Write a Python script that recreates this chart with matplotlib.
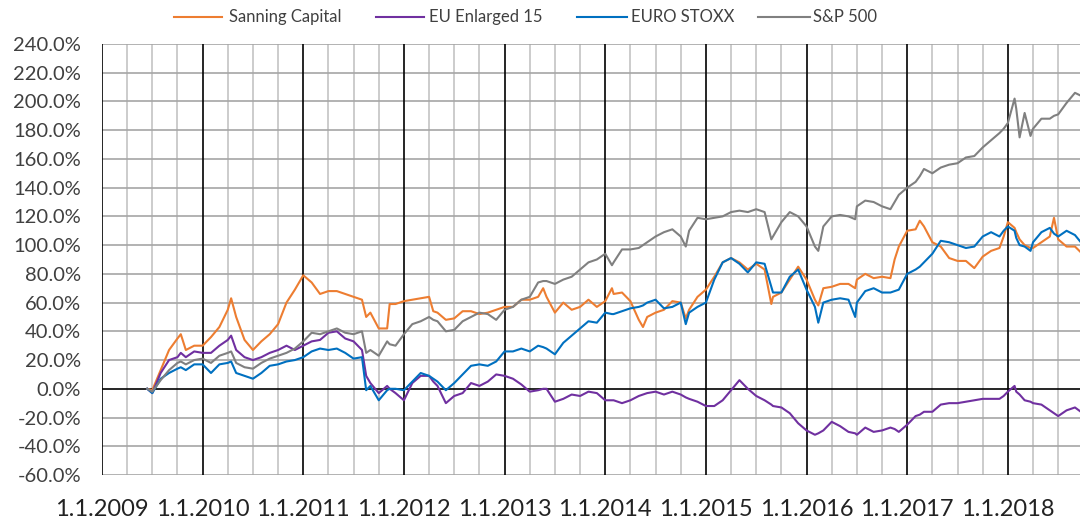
import matplotlib
matplotlib.use("Agg")
import matplotlib.pyplot as plt
from matplotlib.lines import Line2D
import numpy as np

# months since 1.1.2009
months = [5.4, 6, 7, 8, 9, 9.4, 10, 11, 12, 13, 14, 15, 15.4, 16, 17, 18, 19, 20, 21, 22, 23, 24,
          25, 26, 27, 28, 29, 30, 31, 31.5, 32, 33, 34, 34.3, 35, 36, 37, 38, 39, 39.5, 40, 41, 42,
          43, 44, 45, 46, 47, 48, 49, 50, 51, 52, 52.6, 53, 54, 55, 56, 57, 58, 59, 60, 60.8, 61,
          62, 63, 64, 64.5, 65, 66, 67, 68, 69, 69.6, 70, 71, 72, 73, 74, 75, 76, 77, 78, 79, 79.8,
          80, 81, 82, 83, 84, 85, 85.4, 86, 87, 88, 89, 89.8, 90, 91, 92, 93, 94, 94.5, 95, 96, 97,
          97.5, 98, 99, 100, 101, 102, 103, 104, 105, 106, 107, 107.5, 108, 108.8, 109, 109.4, 110,
          110.7, 111, 112, 113, 113.5, 114, 115, 116, 116.7]

sanning = [0, -1, 13, 27, 35, 38, 27, 30, 30, 36, 43, 55, 63, 50, 34, 27, 33, 38, 45, 60, 69, 79,
           74, 66, 68, 68, 66, 64, 62, 50, 53, 42, 42, 59, 59, 61, 62, 63, 64, 54, 53, 48, 49,
           54, 54, 52, 53, 55, 57, 57, 62, 62, 64, 70, 64, 53, 60, 55, 57, 62, 57, 61, 70, 66,
           67, 61, 48, 43, 50, 53, 55, 61, 60, 49, 55, 64, 69, 78, 88, 91, 88, 83, 87, 83, 59,
           64, 67, 76, 85, 76, 62, 58, 70, 71, 73, 73, 70, 76, 80, 77, 78, 77, 90, 99, 110, 111,
           117, 113, 102, 99, 91, 89, 89, 84, 92, 96, 98, 106, 116, 112, 109, 104, 100,
           98, 98, 102, 106, 119, 104, 99, 99, 95]

eu15 = [0, -3, 11, 20, 22, 25, 22, 26, 25, 25, 30, 34, 37, 27, 22, 20, 22, 25, 27, 30, 27, 30,
        33, 34, 39, 40, 35, 33, 27, 9, 4, -3, 2, 0, -3, -8, 4, 9, 9, 5, 2, -10, -5,
        -3, 4, 2, 5, 10, 9, 7, 3, -2, -1, 0, 0, -9, -7, -4, -5, -2, -3, -8, -8, -8,
        -10, -8, -5, -4, -3, -2, -4, -2, -4, -6, -7, -9, -12, -12, -8, -1, 6, 0, -5, -8, -11,
        -12, -13, -17, -24, -29, -32, -31, -29, -23, -26, -30, -31, -32, -27, -30, -29, -27, -28, -30, -25, -19,
        -18, -16, -16, -11, -10, -10, -9, -8, -7, -7, -7, -5, -2, 2, -2, -4, -8,
        -9, -10, -11, -15, -17, -19, -15, -13, -16]

eurostoxx = [0, -3, 7, 11, 14, 15, 13, 17, 17, 11, 17, 18, 19, 11, 9, 7, 11, 16, 17, 19, 20, 22,
             26, 28, 27, 28, 25, 21, 22, -1, 2, -8, -1, 0, 0, -1, 5, 11, 9, 7, 5, -1, 4,
             10, 16, 17, 16, 19, 26, 26, 28, 26, 30, 29, 28, 24, 32, 37, 42, 47, 46, 53, 52, 52,
             54, 56, 57, 58, 60, 62, 56, 57, 60, 45, 53, 57, 60, 76, 88, 91, 87, 81, 88, 87, 71,
             67, 67, 78, 83, 69, 57, 46, 60, 62, 63, 62, 50, 60, 68, 70, 67, 67, 68, 69, 80, 83,
             85, 88, 94, 103, 102, 100, 98, 99, 106, 109, 106, 110, 113, 110, 105, 100, 99,
             96, 102, 109, 112, 108, 106, 110, 107, 102]

sp500 = [0, -2, 6, 13, 18, 19, 17, 20, 21, 18, 23, 25, 26, 18, 15, 14, 18, 21, 23, 25, 28, 33,
         39, 38, 40, 42, 39, 38, 40, 25, 27, 23, 33, 31, 30, 38, 45, 47, 50, 48, 47, 40, 41,
         47, 50, 53, 52, 48, 55, 57, 62, 64, 74, 75, 75, 73, 76, 78, 83, 88, 90, 94, 86, 88,
         97, 97, 98, 100, 102, 106, 109, 111, 106, 99, 110, 119, 118, 119, 120, 123, 124, 123, 125, 123, 104,
         106, 116, 123, 120, 113, 99, 96, 113, 120, 121, 120, 118, 127, 131, 130, 127, 125, 130, 135, 140, 144,
         148, 153, 150, 154, 156, 157, 161, 162, 168, 173, 178, 181, 185, 202, 195, 175, 192,
         176, 181, 188, 188, 190, 191, 199, 206, 204]

names = ["Sanning Capital", "EU Enlarged 15", "EURO STOXX", "S&P 500"]
colors = ["#ED7D31", "#7030A0", "#0070C0", "#808080"]
year_labels = ["1.1.2009", "1.1.2010", "1.1.2011", "1.1.2012", "1.1.2013",
               "1.1.2014", "1.1.2015", "1.1.2016", "1.1.2017", "1.1.2018"]

plt.rcParams['font.family'] = ['Lato', 'DejaVu Sans']

W, H = 1080, 523
fig = plt.figure(figsize=(10.8, 5.23), dpi=100)
ax = fig.add_axes([0.0944, 0.0918, 0.9056, 0.8241])

# grid
for m in np.arange(0, 117, 3):
    if m % 12 == 0:
        ax.axvline(m, color="black", lw=1.2, zorder=1)
    else:
        ax.axvline(m, color="#C8C8C8", lw=1.3, zorder=0)
for v in np.arange(-60, 241, 20):
    ax.axhline(v, color="black" if v == 0 else "#A6A6A6", lw=1.2, zorder=1 if v == 0 else 0)

for series, name, c in zip([sanning, eu15, eurostoxx, sp500], names, colors):
    ax.plot(months, series, color=c, lw=1.5, label=name, zorder=2)

ax.set_xlim(0, 116.6)
ax.set_ylim(-60, 240)
ax.set_yticks(np.arange(-60, 241, 20))
ax.set_yticklabels(["%.1f%%" % v for v in np.arange(-60, 241, 20)], fontsize=14.5, color="#404040")
ax.set_xticks(np.arange(0, 109, 12))
ax.set_xticklabels(year_labels, fontsize=17, color="#222222")
ax.tick_params(length=0)
ax.tick_params(axis="y", pad=15)
ax.tick_params(axis="x", pad=17)
for s in ax.spines.values():
    s.set_visible(False)

# legend entries placed along the top (pixel positions)
line_x = [(174, 222), (376, 424), (577, 627), (758, 810)]
text_x = [229, 429, 631, 813]
ly = 1 - 17 / H
for (x0, x1), tx, name, c in zip(line_x, text_x, names, colors):
    fig.add_artist(Line2D([x0 / W, x1 / W], [ly, ly], color=c, lw=1.5, transform=fig.transFigure))
    fig.text(tx / W, ly, name, fontsize=12, color="#404040", va="center", ha="left")

fig.savefig("out.png", dpi=100)
